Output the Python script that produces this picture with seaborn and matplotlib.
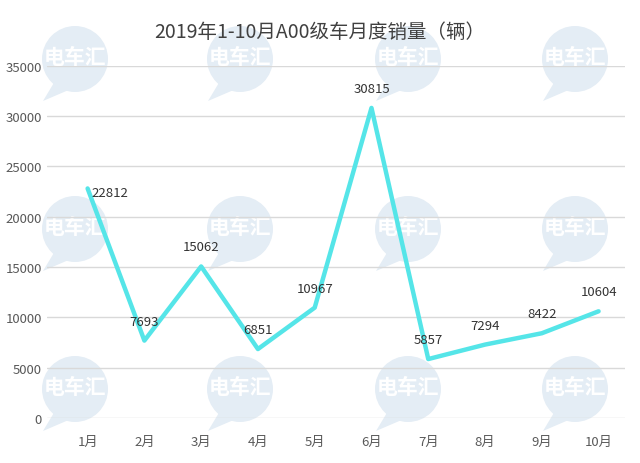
import numpy as np
import pandas as pd
import matplotlib
matplotlib.use("Agg")
import matplotlib.pyplot as plt
import seaborn as sns
from matplotlib.patches import Circle, Polygon

# dados do gráfico
meses = ["1月", "2月", "3月", "4月", "5月", "6月", "7月", "8月", "9月", "10月"]
vendas = [22812, 7693, 15062, 6851, 10967, 30815, 5857, 7294, 8422, 10604]
titulo = "2019年1-10月A00级车月度销量（辆）"

df = pd.DataFrame({"mes": meses, "vendas": vendas})

sns.set_theme(style="white")
plt.rcParams["font.family"] = ["Noto Sans CJK SC", "DejaVu Sans"]

fig = plt.figure(figsize=(6.4, 4.64), dpi=100)
fig.patch.set_facecolor("white")

# marca d'água num eixo de fundo (coordenadas em pixels)
bg = fig.add_axes([0, 0, 1, 1], zorder=-1)
bg.set_xlim(0, 640)
bg.set_ylim(464, 0)
bg.axis("off")
wm_x = [75, 240, 408, 575]
wm_y = [60, 230, 390]
for wx in wm_x:
    for wy in wm_y:
        bg.add_patch(Circle((wx, wy), 33, facecolor="#e4edf5", edgecolor="none"))
        bg.add_patch(Polygon([(wx - 20, wy + 22), (wx - 32, wy + 42), (wx - 4, wy + 30)],
                             facecolor="#e4edf5", edgecolor="none"))
        bg.text(wx, wy - 2, "电车汇", ha="center", va="center", fontsize=15,
                color="white", fontweight="bold")

ax = fig.add_axes([0.073, 0.097, 0.904, 0.759])
ax.set_facecolor("none")

sns.lineplot(data=df, x="mes", y="vendas", sort=False, color="#55e5e8",
             linewidth=3.2, ax=ax, zorder=3)

offsets = [(16, -3), (0, 14), (0, 14), (0, 14), (0, 14), (0, 14), (0, 14), (0, 14), (0, 14), (0, 14)]
for i, v in enumerate(vendas):
    ax.annotate(str(v), (i, v), xytext=offsets[i], textcoords="offset points",
                ha="center", va="center", fontsize=9.5, color="#333333", zorder=4)

ax.set_ylim(0, 35000)
ax.set_xlim(-0.72, 9.47)
ax.set_yticks(np.arange(0, 35001, 5000))
ax.yaxis.grid(True, color="#d9d9d9", linewidth=1)
ax.set_axisbelow(True)
for s in ax.spines.values():
    s.set_visible(False)
ax.tick_params(axis="both", length=0, labelsize=9.5, colors="#595959")
ax.tick_params(axis="x", pad=12)
ax.set_xlabel("")
ax.set_ylabel("")

fig.text(0.5, 0.93, titulo, ha="center", va="center", fontsize=14,
         color="#404040", fontweight="medium")

fig.savefig("out.png", dpi=100)
